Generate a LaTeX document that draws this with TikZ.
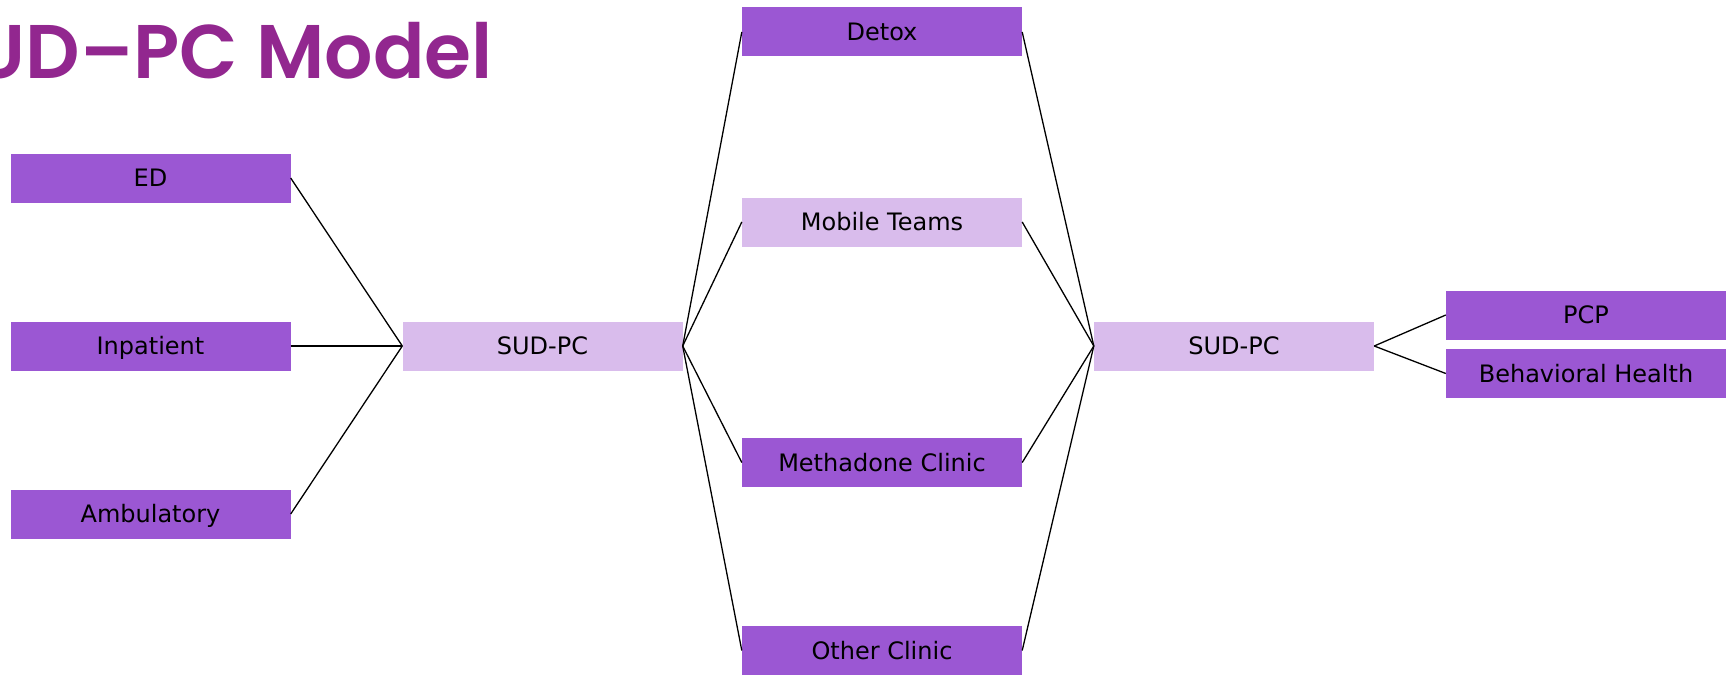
\documentclass[tikz,border=0pt]{standalone}
\usepackage{fontspec}
\setmainfont{DejaVu Sans}
\newfontfamily\titlefont{Poppins SemiBold}
\definecolor{boxdark}{RGB}{155,87,211}
\definecolor{boxlight}{RGB}{217,188,236}
\definecolor{titlepurple}{RGB}{146,39,143}
\begin{document}
\begin{tikzpicture}[x=1pt,y=-1pt,
  box/.style={rectangle, inner sep=0pt, minimum width=280pt, minimum height=49pt,
    text height=22pt, text depth=4.5pt,
    font=\fontsize{24}{28}\selectfont, text=black},
  darkbox/.style={box, fill=boxdark},
  lightbox/.style={box, fill=boxlight},
  link/.style={draw=black, line width=1.3pt}]
\useasboundingbox (0,0) rectangle (1732,677);

% title
\node[anchor=base east, inner sep=0pt, text=titlepurple,
  font=\titlefont\fontsize{76}{90}\selectfont] (title) at (493,78) {SUD–PC Model};

% entry settings
\node[darkbox] (ed) at (150.5,178) {ED};
\node[darkbox] (inpat) at (150.5,346) {Inpatient};
\node[darkbox] (amb) at (150.5,514) {Ambulatory};

% first hub
\node[lightbox] (hubA) at (542.5,346) {SUD-PC};

% community services
\node[darkbox] (detox) at (882,32) {Detox};
\node[lightbox] (mobile) at (882,222) {Mobile Teams};
\node[darkbox] (methadone) at (882,462.5) {Methadone Clinic};
\node[darkbox] (other) at (882,650.5) {Other Clinic};

% second hub
\node[lightbox] (hubB) at (1234,346) {SUD-PC};

% ongoing care
\node[darkbox] (pcp) at (1586,315) {PCP};
\node[darkbox] (bh) at (1586,373.5) {Behavioral Health};

% connectors
\foreach \n in {ed,inpat,amb} \draw[link] (\n.east) -- (hubA.west);
\foreach \n in {detox,mobile,methadone,other} {
  \draw[link] (hubA.east) -- (\n.west);
  \draw[link] (\n.east) -- (hubB.west);
}
\draw[link] (hubB.east) -- (pcp.west);
\draw[link] (hubB.east) -- (bh.west);
\end{tikzpicture}
\end{document}
